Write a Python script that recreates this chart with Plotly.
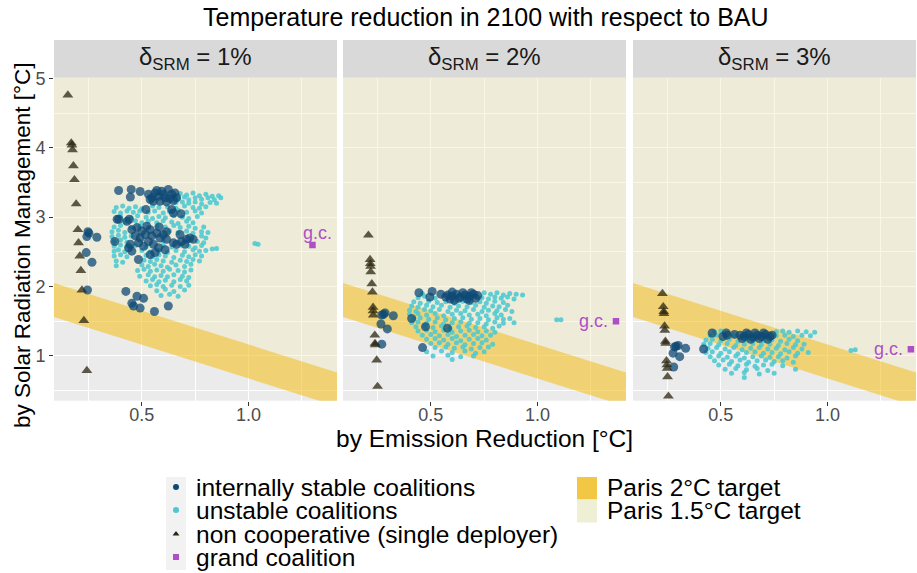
import plotly.graph_objects as go

W, H = 917, 573

# ---------------- text ----------------
title_text = "Temperature reduction in 2100 with respect to BAU"
x_title = "by Emission Reduction [°C]"
y_title = "by Solar Radiation Management [°C]"
panel_labels = ["δ<sub>SRM</sub> = 1%", "δ<sub>SRM</sub> = 2%", "δ<sub>SRM</sub> = 3%"]
x_ticks = [0.5, 1.0]
x_tick_labels = ["0.5", "1.0"]
x_minor = [0.25, 0.75, 1.25]
y_ticks = [1, 2, 3, 4, 5]
y_tick_labels = ["1", "2", "3", "4", "5"]
y_minor = [0.5, 1.5, 2.5, 3.5, 4.5]
legend_points = ["internally stable coalitions", "unstable coalitions",
                 "non cooperative (single deployer)", "grand coalition"]
legend_targets = ["Paris 2°C target", "Paris 1.5°C target"]
gc_label = "g.c."

# Paris target band (SRM = intercept + slope * ER)
paris2_upper = 2.135
paris2_lower = 1.645
paris_slope = -0.97

# ---------------- data: panel 1 (delta 1%) ----------------
noncoop_1 = [(0.153, 4.76), (0.169, 4.07), (0.172, 4.04), (0.175, 3.97), (0.179, 3.74),
             (0.184, 3.54), (0.192, 3.19), (0.200, 2.82), (0.203, 2.63), (0.209, 2.44),
             (0.214, 2.23), (0.219, 1.95), (0.228, 1.51), (0.242, 0.79)]
stable_1 = [(0.247, 2.79), (0.252, 2.77), (0.242, 2.72), (0.289, 2.71), (0.239, 2.49),
            (0.266, 2.35), (0.245, 1.95),
            (0.391, 3.385), (0.450, 3.40), (0.446, 3.29), (0.492, 3.37),
            (0.531, 3.33), (0.547, 3.28), (0.562, 3.35), (0.578, 3.30), (0.593, 3.375),
            (0.609, 3.28), (0.624, 3.40), (0.640, 3.33), (0.655, 3.35), (0.663, 3.28),
            (0.554, 3.23), (0.585, 3.23), (0.616, 3.22), (0.648, 3.24), (0.539, 3.255),
            (0.601, 3.33), (0.632, 3.27), (0.570, 3.385),
            (0.640, 3.11), (0.648, 3.06), (0.683, 3.05), (0.519, 3.11), (0.384, 2.97),
            (0.392, 2.97), (0.430, 2.94), (0.441, 2.97), (0.581, 2.86),
            (0.453, 2.82), (0.477, 2.85), (0.500, 2.80), (0.523, 2.87), (0.539, 2.82),
            (0.469, 2.73), (0.492, 2.70), (0.516, 2.75), (0.547, 2.73), (0.570, 2.77),
            (0.585, 2.70), (0.601, 2.75), (0.616, 2.68), (0.484, 2.63), (0.508, 2.58),
            (0.531, 2.65), (0.554, 2.61), (0.578, 2.56), (0.446, 2.61), (0.453, 2.51),
            (0.438, 2.56), (0.616, 2.79), (0.648, 2.63), (0.663, 2.61), (0.686, 2.65),
            (0.710, 2.68), (0.725, 2.70), (0.741, 2.68), (0.702, 2.61), (0.679, 2.75),
            (0.562, 2.49), (0.609, 2.53), (0.539, 2.46), (0.484, 2.39), (0.373, 2.65),
            (0.425, 1.93), (0.477, 1.86), (0.508, 1.83), (0.453, 1.76), (0.461, 1.72),
            (0.492, 1.69), (0.559, 1.64), (0.624, 1.72)]
unstable_1 = [(0.68, 3.34), (0.71, 3.32), (0.74, 3.35), (0.77, 3.31), (0.80, 3.33), (0.83, 3.30), (0.86, 3.31),
              (0.67, 3.27), (0.70, 3.29), (0.72, 3.25), (0.75, 3.28), (0.78, 3.26), (0.81, 3.28), (0.84, 3.25),
              (0.87, 3.28), (0.69, 3.22), (0.66, 3.21), (0.72, 3.20), (0.75, 3.22), (0.78, 3.19), (0.82, 3.21),
              (0.85, 3.20),
              (0.38, 3.14), (0.41, 3.16), (0.44, 3.13), (0.47, 3.15), (0.50, 3.12), (0.55, 3.16), (0.58, 3.14),
              (0.62, 3.15), (0.66, 3.13), (0.70, 3.16), (0.74, 3.14), (0.77, 3.13), (0.80, 3.15),
              (0.37, 3.08), (0.40, 3.06), (0.43, 3.09), (0.46, 3.07), (0.49, 3.09), (0.53, 3.07), (0.56, 3.09),
              (0.60, 3.06), (0.63, 3.08), (0.67, 3.10), (0.71, 3.07), (0.75, 3.09), (0.78, 3.06),
              (0.40, 3.01), (0.45, 2.99), (0.48, 3.02), (0.52, 3.00), (0.55, 2.98), (0.58, 3.01), (0.61, 2.99),
              (0.65, 3.02), (0.69, 3.00), (0.72, 2.98), (0.76, 3.01),
              (0.42, 2.93), (0.47, 2.95), (0.50, 2.92), (0.53, 2.94), (0.57, 2.92), (0.60, 2.95), (0.64, 2.93),
              (0.67, 2.91), (0.71, 2.94), (0.74, 2.92),
              (0.37, 2.86), (0.40, 2.88), (0.45, 2.85), (0.49, 2.87), (0.53, 2.85), (0.57, 2.87), (0.61, 2.86),
              (0.65, 2.88), (0.68, 2.85), (0.72, 2.87), (0.75, 2.84), (0.79, 2.86),
              (0.36, 2.79), (0.39, 2.81), (0.42, 2.78), (0.63, 2.80), (0.67, 2.78), (0.71, 2.80), (0.74, 2.77),
              (0.78, 2.79), (0.81, 2.78),
              (0.36, 2.72), (0.39, 2.74), (0.42, 2.71), (0.45, 2.73), (0.78, 2.73), (0.80, 2.70),
              (0.37, 2.65), (0.40, 2.67), (0.43, 2.64), (0.60, 2.66), (0.76, 2.65), (0.79, 2.63),
              (0.37, 2.58), (0.40, 2.60), (0.43, 2.57), (0.47, 2.59), (0.52, 2.57), (0.60, 2.59), (0.64, 2.57),
              (0.68, 2.60), (0.72, 2.58), (0.75, 2.56), (0.78, 2.59),
              (0.37, 2.51), (0.39, 2.53), (0.42, 2.50), (0.50, 2.52), (0.54, 2.50), (0.58, 2.52), (0.62, 2.49),
              (0.66, 2.52), (0.70, 2.50), (0.74, 2.53), (0.77, 2.51), (0.80, 2.52), (0.83, 2.54), (0.85, 2.55),
              (0.37, 2.44), (0.40, 2.46), (0.43, 2.43), (0.52, 2.45), (0.55, 2.43), (0.58, 2.46), (0.61, 2.44),
              (0.65, 2.42), (0.69, 2.45), (0.72, 2.43), (0.75, 2.46), (0.78, 2.44),
              (0.38, 2.37), (0.41, 2.35), (0.51, 2.38), (0.54, 2.36), (0.57, 2.39), (0.60, 2.37), (0.64, 2.35),
              (0.68, 2.38), (0.71, 2.36), (0.74, 2.39), (0.77, 2.37),
              (0.38, 2.30), (0.50, 2.31), (0.53, 2.29), (0.56, 2.32), (0.59, 2.30), (0.62, 2.28), (0.66, 2.31),
              (0.70, 2.29), (0.73, 2.32),
              (0.48, 2.23), (0.51, 2.25), (0.54, 2.22), (0.57, 2.24), (0.60, 2.22), (0.63, 2.25), (0.67, 2.23),
              (0.70, 2.21), (0.73, 2.24),
              (0.49, 2.15), (0.53, 2.17), (0.56, 2.14), (0.59, 2.16), (0.62, 2.14), (0.65, 2.17), (0.69, 2.15),
              (0.72, 2.13),
              (0.52, 2.08), (0.55, 2.10), (0.58, 2.07), (0.61, 2.09), (0.65, 2.07), (0.68, 2.10), (0.71, 2.08),
              (0.54, 2.01), (0.57, 2.03), (0.60, 2.00), (0.64, 2.02), (0.68, 2.00), (0.72, 2.02),
              (0.57, 1.94), (0.61, 1.96), (0.65, 1.93), (0.70, 1.95),
              (0.59, 1.87), (0.63, 1.89), (0.67, 1.86),
              (1.03, 2.62), (1.045, 2.61)]
grand_1 = [(1.30, 2.60)]

# ---------------- data: panel 2 (delta 2%) ----------------
noncoop_2 = [(0.207, 2.74), (0.215, 2.39), (0.216, 2.33), (0.217, 2.29), (0.218, 2.21),
             (0.223, 2.04), (0.226, 1.92), (0.229, 1.70), (0.229, 1.65), (0.230, 1.59),
             (0.237, 1.30), (0.238, 1.18), (0.239, 1.16), (0.246, 0.94), (0.250, 0.56)]
stable_2 = [(0.270, 1.59), (0.285, 1.62), (0.278, 1.60), (0.324, 1.58), (0.266, 1.46),
            (0.296, 1.39), (0.270, 1.17), (0.410, 1.54), (0.475, 1.42), (0.461, 1.12),
            (0.578, 1.40), (0.444, 1.91), (0.495, 1.85), (0.506, 1.93), (0.547, 1.89),
            (0.58, 1.88), (0.60, 1.86), (0.62, 1.89), (0.64, 1.85), (0.66, 1.88), (0.68, 1.86),
            (0.70, 1.89), (0.72, 1.87), (0.59, 1.82), (0.63, 1.83), (0.67, 1.82), (0.71, 1.83),
            (0.61, 1.80), (0.65, 1.91), (0.69, 1.91), (0.57, 1.85), (0.60, 1.92), (0.68, 1.80)]
unstable_2 = [(0.46, 1.90), (0.75, 1.91), (0.78, 1.89), (0.81, 1.91), (0.84, 1.88), (0.87, 1.90), (0.90, 1.89),
              (0.93, 1.88),
              (0.44, 1.84), (0.47, 1.86), (0.52, 1.83), (0.74, 1.84), (0.77, 1.82), (0.80, 1.85), (0.83, 1.83),
              (0.86, 1.85), (0.89, 1.82),
              (0.42, 1.78), (0.45, 1.76), (0.49, 1.79), (0.53, 1.77), (0.57, 1.78), (0.61, 1.76), (0.65, 1.79),
              (0.69, 1.77), (0.73, 1.78), (0.76, 1.76), (0.80, 1.79), (0.84, 1.77),
              (0.41, 1.72), (0.44, 1.70), (0.48, 1.73), (0.51, 1.71), (0.55, 1.73), (0.59, 1.70), (0.63, 1.72),
              (0.67, 1.71), (0.71, 1.73), (0.75, 1.70), (0.79, 1.72), (0.82, 1.71), (0.86, 1.73),
              (0.40, 1.66), (0.43, 1.64), (0.47, 1.67), (0.50, 1.65), (0.54, 1.67), (0.58, 1.64), (0.62, 1.66),
              (0.66, 1.65), (0.70, 1.67), (0.74, 1.64), (0.77, 1.66), (0.81, 1.65), (0.85, 1.67), (0.88, 1.64),
              (0.40, 1.60), (0.44, 1.61), (0.48, 1.59), (0.52, 1.61), (0.56, 1.58), (0.60, 1.60), (0.64, 1.61),
              (0.68, 1.59), (0.72, 1.60), (0.76, 1.58), (0.80, 1.61), (0.83, 1.59),
              (0.42, 1.54), (0.45, 1.55), (0.49, 1.53), (0.53, 1.55), (0.57, 1.52), (0.61, 1.54), (0.65, 1.55),
              (0.69, 1.53), (0.73, 1.54), (0.77, 1.52), (0.81, 1.55), (0.84, 1.53), (0.87, 1.54),
              (0.41, 1.48), (0.44, 1.49), (0.48, 1.47), (0.52, 1.49), (0.56, 1.46), (0.60, 1.48), (0.64, 1.49),
              (0.68, 1.47), (0.72, 1.48), (0.76, 1.46), (0.80, 1.49), (0.84, 1.47), (0.89, 1.48),
              (0.43, 1.42), (0.47, 1.43), (0.51, 1.41), (0.55, 1.43), (0.59, 1.40), (0.63, 1.42), (0.67, 1.43),
              (0.71, 1.41), (0.75, 1.42), (0.79, 1.40), (0.82, 1.43),
              (0.44, 1.36), (0.48, 1.37), (0.52, 1.35), (0.56, 1.37), (0.60, 1.34), (0.64, 1.36), (0.68, 1.37),
              (0.72, 1.35), (0.76, 1.36), (0.80, 1.34),
              (0.46, 1.30), (0.50, 1.31), (0.54, 1.29), (0.58, 1.31), (0.62, 1.28), (0.66, 1.30), (0.70, 1.31),
              (0.74, 1.29), (0.78, 1.30),
              (0.48, 1.24), (0.52, 1.25), (0.56, 1.23), (0.60, 1.25), (0.64, 1.22), (0.68, 1.24), (0.72, 1.25),
              (0.76, 1.23),
              (0.50, 1.18), (0.54, 1.19), (0.58, 1.17), (0.62, 1.19), (0.66, 1.16), (0.70, 1.18), (0.74, 1.19),
              (0.79, 1.17),
              (0.52, 1.12), (0.57, 1.13), (0.61, 1.11), (0.65, 1.13), (0.69, 1.10), (0.73, 1.12), (0.77, 1.13),
              (0.48, 1.06), (0.55, 1.07), (0.60, 1.05), (0.66, 1.07), (0.71, 1.04), (0.75, 1.06),
              (0.51, 1.00), (0.58, 1.01), (0.64, 0.99), (0.70, 1.00),
              (0.60, 0.95),
              (1.09, 1.52), (1.11, 1.52)]
grand_2 = [(1.368, 1.50)]

# ---------------- data: panel 3 (delta 3%) ----------------
noncoop_3 = [(0.226, 1.90), (0.230, 1.71), (0.232, 1.64), (0.233, 1.61), (0.236, 1.43),
             (0.237, 1.37), (0.240, 1.21), (0.241, 1.18), (0.245, 0.93), (0.247, 0.87),
             (0.248, 0.82), (0.250, 0.70), (0.254, 0.42)]
stable_3 = [(0.290, 1.14), (0.300, 1.15), (0.283, 1.13), (0.335, 1.11), (0.276, 1.04),
            (0.307, 0.99), (0.279, 0.84), (0.419, 1.10), (0.459, 1.33), (0.510, 1.28),
            (0.525, 1.33), (0.530, 1.30), (0.564, 1.31),
            (0.59, 1.30), (0.61, 1.28), (0.63, 1.31), (0.65, 1.27), (0.67, 1.30), (0.69, 1.28),
            (0.71, 1.31), (0.73, 1.28), (0.60, 1.25), (0.64, 1.24), (0.68, 1.25), (0.72, 1.24),
            (0.62, 1.33), (0.66, 1.33), (0.70, 1.33), (0.74, 1.30)]
unstable_3 = [(0.47, 1.35), (0.50, 1.36), (0.76, 1.35), (0.79, 1.36), (0.82, 1.34), (0.86, 1.36), (0.90, 1.35),
              (0.94, 1.34),
              (0.45, 1.29), (0.48, 1.30), (0.52, 1.28), (0.56, 1.30), (0.76, 1.29), (0.80, 1.30), (0.84, 1.28),
              (0.88, 1.30), (0.92, 1.29),
              (0.43, 1.23), (0.46, 1.24), (0.50, 1.22), (0.54, 1.24), (0.58, 1.21), (0.62, 1.23), (0.66, 1.24),
              (0.70, 1.22), (0.74, 1.23), (0.78, 1.21), (0.82, 1.24), (0.86, 1.22),
              (0.42, 1.17), (0.45, 1.18), (0.49, 1.16), (0.53, 1.18), (0.57, 1.15), (0.61, 1.17), (0.65, 1.18),
              (0.69, 1.16), (0.73, 1.17), (0.77, 1.15), (0.81, 1.18), (0.85, 1.16), (0.89, 1.17),
              (0.44, 1.11), (0.48, 1.12), (0.52, 1.10), (0.56, 1.12), (0.60, 1.09), (0.64, 1.11), (0.68, 1.12),
              (0.72, 1.10), (0.76, 1.11), (0.80, 1.09), (0.84, 1.12), (0.88, 1.10),
              (0.43, 1.05), (0.46, 1.06), (0.50, 1.04), (0.54, 1.06), (0.58, 1.03), (0.62, 1.05), (0.66, 1.06),
              (0.70, 1.04), (0.74, 1.05), (0.78, 1.03), (0.82, 1.06), (0.86, 1.04), (0.91, 1.05),
              (0.45, 0.99), (0.49, 1.00), (0.53, 0.98), (0.57, 1.00), (0.61, 0.97), (0.65, 0.99), (0.69, 1.00),
              (0.73, 0.98), (0.77, 0.99), (0.81, 0.97), (0.85, 1.00),
              (0.47, 0.93), (0.51, 0.94), (0.55, 0.92), (0.59, 0.94), (0.63, 0.91), (0.67, 0.93), (0.71, 0.94),
              (0.75, 0.92), (0.79, 0.93), (0.84, 0.91),
              (0.49, 0.87), (0.54, 0.88), (0.58, 0.86), (0.62, 0.88), (0.66, 0.85), (0.70, 0.87), (0.74, 0.88),
              (0.79, 0.86),
              (0.52, 0.81), (0.57, 0.82), (0.62, 0.80), (0.67, 0.82), (0.72, 0.79), (0.85, 0.81),
              (0.55, 0.75), (0.61, 0.76), (0.68, 0.74), (0.75, 0.75),
              (0.61, 0.69),
              (1.11, 1.08), (1.13, 1.09)]
grand_3 = [(1.391, 1.097)]

panels = [
    dict(stable=stable_1, unstable=unstable_1, noncoop=noncoop_1, grand=grand_1, gc_side="top"),
    dict(stable=stable_2, unstable=unstable_2, noncoop=noncoop_2, grand=grand_2, gc_side="left"),
    dict(stable=stable_3, unstable=unstable_3, noncoop=noncoop_3, grand=grand_3, gc_side="left"),
]

# ---------------- styling ----------------
FONT = "Liberation Sans, Arial, Helvetica, sans-serif"
C_STABLE = "#0E4A75"
C_UNSTABLE = "#4CC8D2"
C_NONCOOP = "#2B2610"
C_GRAND = "#AE4FC6"
C_BAND = "rgba(243,195,43,0.62)"
C_15 = "rgba(243,238,190,0.40)"
C_BAND_KEY = "#F2C744"
C_15_KEY = "#EEEFD4"

x_range = [0.088, 1.415]
y_range = [0.355, 5.01]
panel_px = [(54, 337), (343, 626), (633, 916)]
plot_top, plot_bot = 77.7, 400.7
strip_top = 40
LEG_FONT = 24.5
leg_rows = [488, 511, 535, 558]     # row centres (px) of the legend entries
leg_top_offset = 23.5

fig = go.Figure()

for i, p in enumerate(panels):
    xa = "x" if i == 0 else f"x{i+1}"
    ya = "y" if i == 0 else f"y{i+1}"
    # Paris 1.5 region (above the 2C band) and 2C band
    x0, x1 = x_range[0] - 0.2, x_range[1] + 0.2
    up0, up1 = paris2_upper + paris_slope * x0, paris2_upper + paris_slope * x1
    lo0, lo1 = paris2_lower + paris_slope * x0, paris2_lower + paris_slope * x1
    fig.add_trace(go.Scatter(x=[x0, x1, x1, x0, x0], y=[up0, up1, y_range[1] + 1, y_range[1] + 1, up0],
                             fill="toself", fillcolor=C_15, mode="none", showlegend=False,
                             hoverinfo="skip", xaxis=xa, yaxis=ya))
    fig.add_trace(go.Scatter(x=[x0, x1, x1, x0, x0], y=[up0, up1, lo1, lo0, up0],
                             fill="toself", fillcolor=C_BAND, mode="none", showlegend=False,
                             hoverinfo="skip", xaxis=xa, yaxis=ya))
    fig.add_trace(go.Scatter(x=[q[0] for q in p["unstable"]], y=[q[1] for q in p["unstable"]],
                             mode="markers", marker=dict(size=5, color=C_UNSTABLE, opacity=0.88),
                             showlegend=False, xaxis=xa, yaxis=ya))
    fig.add_trace(go.Scatter(x=[q[0] for q in p["stable"]], y=[q[1] for q in p["stable"]],
                             mode="markers", marker=dict(size=9, color=C_STABLE, opacity=0.75),
                             showlegend=False, xaxis=xa, yaxis=ya))
    fig.add_trace(go.Scatter(x=[q[0] for q in p["noncoop"]], y=[q[1] for q in p["noncoop"]],
                             mode="markers", marker=dict(size=9.5, symbol="triangle-up", color=C_NONCOOP, opacity=0.75),
                             showlegend=False, xaxis=xa, yaxis=ya))
    gx, gy = p["grand"][0]
    fig.add_trace(go.Scatter(x=[gx], y=[gy], mode="markers",
                             marker=dict(size=6.5, symbol="square", color=C_GRAND),
                             showlegend=False, xaxis=xa, yaxis=ya))
    if p["gc_side"] == "top":
        fig.add_annotation(x=gx, y=gy, xref=xa, yref=ya, text=gc_label, showarrow=False,
                           xanchor="center", yanchor="bottom", xshift=5, yshift=0,
                           font=dict(family=FONT, size=18, color=C_GRAND))
    else:
        fig.add_annotation(x=gx, y=gy, xref=xa, yref=ya, text=gc_label, showarrow=False,
                           xanchor="right", yanchor="middle", xshift=-6, yshift=0,
                           font=dict(family=FONT, size=18, color=C_GRAND))

# legend-only entries: one small legend per row so the rows can sit as tight as in the reference
leg_styles = [dict(size=6, color=C_STABLE, symbol="circle"),
              dict(size=6, color=C_UNSTABLE, symbol="circle"),
              dict(size=6, color=C_NONCOOP, symbol="triangle-up"),
              dict(size=6, color=C_GRAND, symbol="square")]
legend_layouts = {}
k = 1
for j, (name, st) in enumerate(zip(legend_points, leg_styles)):
    lid = "legend" if k == 1 else f"legend{k}"
    fig.add_trace(go.Scatter(x=[None], y=[None], mode="markers", name=name, marker=st,
                             legend=lid, xaxis="x", yaxis="y"))
    legend_layouts[lid] = dict(x=156 / W, y=1 - (leg_rows[j] - leg_top_offset) / H,
                               xanchor="left", yanchor="top",
                               font=dict(family=FONT, size=LEG_FONT, color="black"),
                               bgcolor="rgba(0,0,0,0)", itemwidth=30)
    k += 1
for j, (name, col) in enumerate(zip(legend_targets, [C_BAND_KEY, C_15_KEY])):
    lid = f"legend{k}"
    fig.add_trace(go.Scatter(x=[None], y=[None], mode="markers", name=name,
                             marker=dict(size=20, color=col, symbol="square"),
                             legend=lid, xaxis="x", yaxis="y"))
    legend_layouts[lid] = dict(x=567 / W, y=1 - (leg_rows[j] - leg_top_offset) / H,
                               xanchor="left", yanchor="top",
                               font=dict(family=FONT, size=LEG_FONT, color="black"),
                               bgcolor="rgba(0,0,0,0)", itemwidth=30)
    k += 1

ydom = [1 - plot_bot / H, 1 - plot_top / H]
axis_common = dict(showgrid=True, gridcolor="white", gridwidth=1.1, zeroline=False, showline=False,
                   ticks="outside", ticklen=4, tickcolor="#333333", tickwidth=1,
                   tickfont=dict(family=FONT, size=18, color="#4D4D4D"), automargin=False)
layout = {}
for i, (a, b) in enumerate(panel_px):
    sx = "" if i == 0 else str(i + 1)
    layout[f"xaxis{sx}"] = dict(axis_common, domain=[a / W, b / W], range=x_range,
                                tickvals=x_ticks, ticktext=x_tick_labels,
                                anchor=f"y{sx}", ticklabelstandoff=-6,
                                minor=dict(tickvals=x_minor, showgrid=True, gridcolor="white",
                                           gridwidth=0.5, ticklen=0))
    layout[f"yaxis{sx}"] = dict(axis_common, domain=ydom, range=y_range,
                                tickvals=y_ticks, ticktext=y_tick_labels if i == 0 else None,
                                showticklabels=(i == 0), ticklen=4 if i == 0 else 0,
                                anchor=f"x{sx}",
                                minor=dict(tickvals=y_minor, showgrid=True, gridcolor="white",
                                           gridwidth=0.5, ticklen=0))
fig.update_layout(**layout)

shapes = []
annotations = list(fig.layout.annotations)
for i, (a, b) in enumerate(panel_px):
    shapes.append(dict(type="rect", xref="paper", yref="paper", x0=a / W, x1=b / W,
                       y0=1 - plot_top / H, y1=1 - strip_top / H,
                       fillcolor="#D9D9D9", line=dict(width=0), layer="below"))
    annotations.append(dict(xref="paper", yref="paper", x=(a + b) / 2 / W,
                            y=1 - (plot_top + strip_top) / 2 / H, text=panel_labels[i],
                            showarrow=False, xanchor="center", yanchor="middle",
                            font=dict(family=FONT, size=24, color="#1A1A1A")))
# legend key backgrounds (ggplot style key boxes)
shapes.append(dict(type="rect", xref="paper", yref="paper", x0=166 / W, x1=186 / W,
                   y0=1 - 570 / H, y1=1 - 477 / H, fillcolor="#F2F2F2", line=dict(width=0)))
shapes.append(dict(type="rect", xref="paper", yref="paper", x0=577 / W, x1=597 / W,
                   y0=1 - 499.5 / H, y1=1 - 477 / H, fillcolor=C_BAND_KEY, line=dict(width=0)))
shapes.append(dict(type="rect", xref="paper", yref="paper", x0=577 / W, x1=597 / W,
                   y0=1 - 522.5 / H, y1=1 - 499.5 / H, fillcolor=C_15_KEY, line=dict(width=0)))

annotations.append(dict(xref="paper", yref="paper", x=486 / W, y=1 - 17 / H, text=title_text,
                        showarrow=False, xanchor="center", yanchor="middle",
                        font=dict(family=FONT, size=25, color="black")))
annotations.append(dict(xref="paper", yref="paper", x=485 / W, y=1 - 438 / H, text=x_title,
                        showarrow=False, xanchor="center", yanchor="middle",
                        font=dict(family=FONT, size=24.5, color="black")))
annotations.append(dict(xref="paper", yref="paper", x=22 / W, y=1 - 246 / H, text=y_title,
                        showarrow=False, xanchor="center", yanchor="middle", textangle=-90,
                        font=dict(family=FONT, size=22.5, color="black")))

fig.update_layout(
    width=W, height=H,
    margin=dict(l=0, r=0, t=0, b=0, autoexpand=False),
    paper_bgcolor="white", plot_bgcolor="#EBEBEB",
    shapes=shapes, annotations=annotations,
    showlegend=True,
    **legend_layouts,
)

fig.write_html("out.html")
